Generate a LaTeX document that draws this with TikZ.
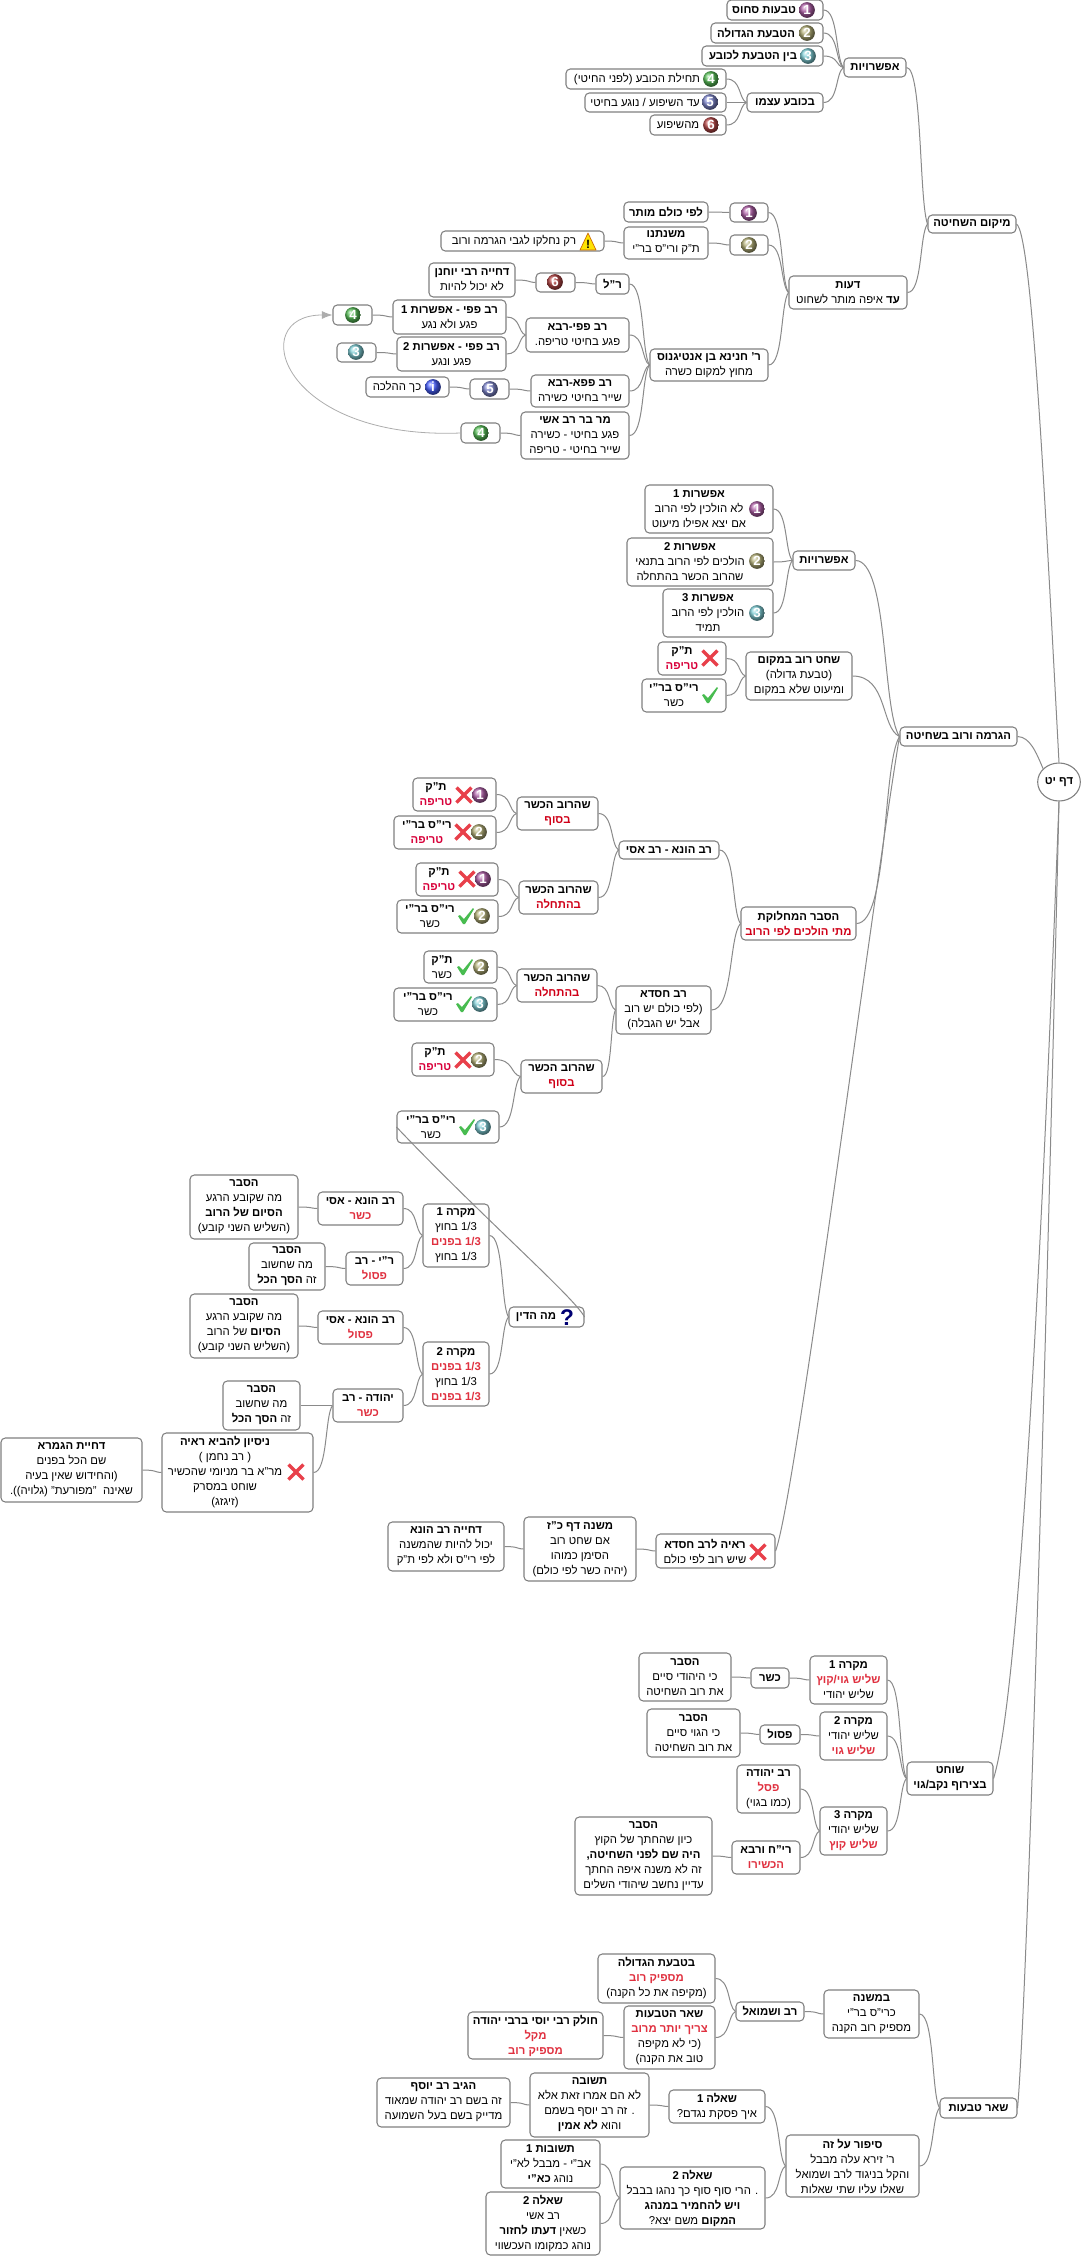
\documentclass[tikz,border=0pt]{standalone}
\usepackage{fontspec}
\setmainfont[Script=Hebrew]{Liberation Sans}
\usetikzlibrary{calc,arrows.meta,shapes.geometric,shadings}
\TeXXeTstate=1
\definecolor{boxc}{HTML}{808080}
\definecolor{linec}{HTML}{8A8A8A}
\definecolor{redA}{HTML}{D8003A}
\definecolor{redB}{HTML}{D00018}
\definecolor{redC}{HTML}{E0303F}
\definecolor{b1}{HTML}{B060A8}
\definecolor{b2}{HTML}{B4B078}
\definecolor{b3}{HTML}{80D0D8}
\definecolor{b4}{HTML}{58C058}
\definecolor{b5}{HTML}{8088D0}
\definecolor{b6}{HTML}{B84848}
\definecolor{binfo}{HTML}{4860FF}
\definecolor{xred}{HTML}{E8404A}
\definecolor{cgreen}{HTML}{48BC50}
\newcommand\hR[1]{\beginR#1\endR}
\newcommand\hB[1]{{\bfseries\beginR#1\endR}}
\newcommand\hRA[1]{{\bfseries\color{redA}\beginR#1\endR}}
\newcommand\hRB[1]{{\bfseries\color{redB}\beginR#1\endR}}
\newcommand\hRC[1]{{\bfseries\color{redC}\beginR#1\endR}}
\tikzset{
  bx/.style={draw=boxc,line width=0.8pt,rounded corners=3.2pt,fill=white,inner sep=0pt,align=center,font=\fontsize{8.5}{11.25}\selectfont},
  bxtext/.style={inner sep=0pt,align=center,font=\fontsize{8.5}{11.25}\selectfont},
  conn/.style={draw=linec,line width=0.75pt},
  numball/.style={circle,inner sep=0pt,minimum size=11.8pt,shade,ball color=#1,text=white,font=\fontsize{10}{10}\selectfont\bfseries}
}
% name, x0,y0,x1,y1, content
\newcommand\BX[6]{\node[bx,minimum width={(#4-#2)*0.75pt},minimum height={(#5-#3)*0.75pt}] (#1) at ({(#2+#4)/2},{(#3+#5)/2}) {#6};}
% name, x0,y0,x1,y1, text centre, content
\newcommand\BXT[7]{\node[bx,minimum width={(#4-#2)*0.75pt},minimum height={(#5-#3)*0.75pt}] (#1) at ({(#2+#4)/2},{(#3+#5)/2}) {};
  \node[bxtext] (#1-t) at ({#6},{(#3+#5)/2}) {#7};}
\newcommand\ball[4]{\node[numball=#4] (ball-#1-#2) at (#1,#2) {#3};}
\newcommand\xmk[2]{\draw[line width=2.6pt,color=xred,line cap=butt] (#1-7.5,#2-7.5) -- (#1+7.5,#2+7.5) (#1-7.5,#2+7.5) -- (#1+7.5,#2-7.5);}
\newcommand\chk[2]{\fill[color=cgreen] (#1-8,#2+0) -- (#1-6,#2-1) -- (#1-2,#2+3) -- (#1+7,#2-8) -- (#1+8,#2-7) -- (#1-1,#2+8) -- (#1-3,#2+8) -- cycle;}
\newcommand\conn[2]{\draw[conn] let \p1=(#2.east),\p2=(#1.west),\n1={\x2-\x1},\n2={\y2-\y1} in (\p1) .. controls ($(\p1)+(0.75*\n1,0pt)$) and ($(\p2)+(-0.4*\n1,-0.15*\n2)$) .. (\p2);}
\begin{document}
\begin{tikzpicture}[x=0.75pt,y=-0.75pt]
\useasboundingbox (0,0) rectangle (1081,2256);
\fill[white] (0,0) rectangle (1081,2256);
% root
\node[bx,ellipse,minimum width=32pt,minimum height=28.5pt] (root) at (1059,782) {\hB{דף יט}};
% --- first branch
\BX{mik}{928}{215}{1016}{233}{\hB{מיקום השחיטה}}
\BX{af1}{844}{58}{906}{77}{\hB{אפשרויות}}
\BXT{t1}{727}{0}{823}{20}{764}{\hB{טבעות סחוס}}
\ball{807}{10}{1}{b1}
\BXT{t2}{711}{23}{823}{43}{756}{\hB{הטבעת הגדולה}}
\ball{807}{33}{2}{b2}
\BXT{t3}{702}{46}{823}{66}{753}{\hB{בין הטבעת לכובע}}
\ball{808}{56}{3}{b3}
\BX{kv}{747}{93}{823}{112}{\hB{בכובע עצמו}}
\BXT{k4}{566}{69}{726}{89}{637}{\hR{תחילת הכובע (לפני החיטי)}}
\ball{711}{79}{4}{b4}
\BXT{k5}{585}{93}{726}{112}{645}{\hR{עד השיפוע / נוגע בחיטי}}
\ball{710}{102}{5}{b5}
\BXT{k6}{650}{115}{726}{135}{678}{\hR{מהשיפוע}}
\ball{711}{125}{6}{b6}
\BX{de}{789}{276}{907}{309}{\hB{דעות}\\\hR{\textbf{עד} איפה מותר לשחוט}}
\BX{i1}{730}{203}{768}{222}{}
\ball{749}{213}{1}{b1}
\BX{le}{624}{202}{708}{222}{\hB{לפי כולם מותר}}
\BX{i2}{730}{235}{768}{255}{}
\ball{749}{245}{2}{b2}
\BX{mn}{624}{227}{708}{259}{\hB{משנתנו}\\\hR{ת"ק ורי"ס בר"י}}
\BXT{wn}{441}{231}{604}{251}{514}{\hR{רק נחלקו לגבי הגרמה ורוב}}
\fill[color=yellow!85!orange,draw=orange!80!black,line width=0.5pt,line join=round] (588,233) -- (596,250) -- (580,250) -- cycle;
\node[inner sep=0pt,font=\fontsize{9}{9}\selectfont\bfseries] (wn-ic) at (588,244) {!};
\BX{ha}{650}{349}{768}{381}{\hB{ר' חנינא בן אנטיגנוס}\\\hR{מחוץ למקום כשרה}}
\BX{rl}{596}{274}{629}{294}{\hB{ר"ל}}
\BX{i6}{536}{273}{575}{292}{}
\ball{555}{282}{6}{b6}
\BX{dy}{429}{263}{515}{297}{\hB{דחייה רבי יוחנן}\\\hR{לא יכול להיות}}
\BX{pr}{526}{318}{629}{352}{\hB{רב פפי-רבא}\\\hR{פגע בחיטי טריפה.}}
\BX{o1a}{393}{300}{506}{334}{\hB{רב פפי - אפשרות 1}\\\hR{פגע ולא נגע}}
\BX{o2a}{397}{337}{506}{371}{\hB{רב פפי - אפשרות 2}\\\hR{פגע ונגע}}
\BX{i4a}{333}{305}{372}{325}{}
\ball{353}{315}{4}{b4}
\BX{i3}{337}{343}{376}{362}{}
\ball{356}{352}{3}{b3}
\BX{pp}{531}{375}{629}{407}{\hB{רב פפא-רבא}\\\hR{שייר בחיטי כשירה}}
\BX{i5}{470}{379}{509}{399}{}
\ball{490}{389}{5}{b5}
\BXT{inf}{366}{377}{449}{397}{397}{\hR{כך ההלכה}}
\node[numball=binfo,font=\fontsize{10}{10}\selectfont\bfseries] (inf-ic) at (433,387) {i};
\BX{mr}{521}{412}{629}{459}{\hB{מר בר רב אשי}\\\hR{פגע בחיטי - כשירה}\\\hR{שייר בחיטי - טריפה}}
\BX{i4b}{461}{423}{500}{443}{}
\ball{481}{433}{4}{b4}
% --- second branch
\BX{hg}{900}{727}{1017}{746}{\hB{הגרמה ורוב בשחיטה}}
\BX{af2}{793}{551}{855}{570}{\hB{אפשרויות}}
\BXT{o1}{645}{485}{773}{533}{699}{\hB{אפשרות 1}\\\hR{לא הולכין לפי הרוב}\\\hR{אם יצא אפילו מיעוט}}
\ball{757}{509}{1}{b1}
\BXT{o2}{627}{538}{773}{586}{690}{\hB{אפשרות 2}\\\hR{הולכים לפי הרוב בתנאי}\\\hR{שהרוב הכשר בהתחלה}}
\ball{757}{561}{2}{b2}
\BXT{o3}{663}{589}{773}{637}{708}{\hB{אפשרות 3}\\\hR{הולכין לפי הרוב}\\\hR{תמיד}}
\ball{757}{613}{3}{b3}
\BX{sc}{746}{652}{852}{700}{\hB{שחט רוב במקום}\\\hR{(טבעת גדולה)}\\\hR{ומיעוט שלא במקום}}
\BXT{tk}{658}{642}{726}{675}{682}{\hB{ת"ק}\\\hRA{טריפה}}
\xmk{710}{658}
\BXT{rs}{642}{679}{726}{712}{674}{\hB{רי"ס בר"י}\\\hR{כשר}}
\chk{710}{695}
\BX{he}{741}{907}{856}{940}{\hB{הסבר המחלוקת}\\\hRB{מתי הולכים לפי הרוב}}
\BX{hu}{619}{841}{719}{859}{\hB{רב הונא - רב אסי}}
\BX{sh1}{517}{797}{598}{830}{\hB{שהרוב הכשר}\\\hRB{בסוף}}
\BXT{a1}{413}{778}{496}{811}{436}{\hB{ת"ק}\\\hRA{טריפה}}
\xmk{464}{795}\ball{480}{795}{1}{b1}
\BXT{a2}{394}{816}{496}{849}{427}{\hB{רי"ס בר"י}\\\hRA{טריפה}}
\xmk{463}{832}\ball{479}{832}{2}{b2}
\BX{sh2}{519}{881}{598}{914}{\hB{שהרוב הכשר}\\\hRB{בהתחלה}}
\BXT{a3}{416}{863}{498}{896}{439}{\hB{ת"ק}\\\hRA{טריפה}}
\xmk{467}{879}\ball{483}{879}{1}{b1}
\BXT{a4}{397}{900}{498}{933}{430}{\hB{רי"ס בר"י}\\\hR{כשר}}
\chk{466}{916}\ball{482}{916}{2}{b2}
\BX{ch}{616}{986}{711}{1034}{\hB{רב חסדא}\\\hR{(לפי כולם יש רוב}\\\hR{אבל יש הגבלה)}}
\BX{sh3}{517}{969}{597}{1002}{\hB{שהרוב הכשר}\\\hRB{בהתחלה}}
\BXT{a5}{424}{951}{497}{983}{442}{\hB{ת"ק}\\\hR{כשר}}
\chk{465}{967}\ball{481}{967}{2}{b2}
\BXT{a6}{394}{988}{497}{1021}{428}{\hB{רי"ס בר"י}\\\hR{כשר}}
\chk{464}{1004}\ball{480}{1004}{3}{b3}
\BX{sh4}{521}{1060}{602}{1093}{\hB{שהרוב הכשר}\\\hRB{בסוף}}
\BXT{a7}{412}{1043}{494}{1076}{435}{\hB{ת"ק}\\\hRA{טריפה}}
\xmk{463}{1060}\ball{479}{1060}{2}{b2}
\BXT{a8}{397}{1111}{499}{1143}{431}{\hB{רי"ס בר"י}\\\hR{כשר}}
\chk{467}{1127}\ball{483}{1127}{3}{b3}
\BXT{mh}{509}{1307}{584}{1327}{536}{\hB{מה הדין}}
\node[inner sep=0pt,text=blue!45!black,font=\fontsize{17}{17}\selectfont\bfseries] (mh-ic) at (567,1318) {?};
\BX{m1}{423}{1204}{489}{1267}{\hB{מקרה 1}\\\hR{1/3 בחוץ}\\\hRC{1/3 בפנים}\\\hR{1/3 בחוץ}}
\BX{r1}{318}{1192}{403}{1225}{\hB{רב הונא - אסי}\\\hRC{כשר}}
\BX{e1}{190}{1175}{298}{1239}{\hB{הסבר}\\\hR{מה שקובע הרגע}\\\hB{הסיום של הרוב}\\\hR{(השליש השני קובע)}}
\BX{r2}{346}{1252}{403}{1285}{\hB{ר"י - רב}\\\hRC{פסול}}
\BX{e2}{249}{1243}{325}{1290}{\hB{הסבר}\\\hR{מה שחשוב}\\\hR{זה \textbf{הסך הכל}}}
\BX{m2}{423}{1342}{489}{1406}{\hB{מקרה 2}\\\hRC{1/3 בפנים}\\\hR{1/3 בחוץ}\\\hRC{1/3 בפנים}}
\BX{r3}{318}{1311}{403}{1344}{\hB{רב הונא - אסי}\\\hRC{פסול}}
\BX{e3}{190}{1294}{298}{1358}{\hB{הסבר}\\\hR{מה שקובע הרגע}\\\hR{\textbf{הסיום} של הרוב}\\\hR{(השליש השני קובע)}}
\BX{r4}{333}{1389}{403}{1422}{\hB{יהודה - רב}\\\hRC{כשר}}
\BX{e4}{223}{1381}{300}{1430}{\hB{הסבר}\\\hR{מה שחשוב}\\\hR{זה \textbf{הסך הכל}}}
\BXT{ni}{162}{1433}{313}{1512}{225}{\hB{ניסיון להביא ראיה}\\\hR{( רב נחמן )}\\\hR{מר"א בר מניומי שהכשיר}\\\hR{שוחט במסרק}\\\hR{(זיגזג)}}
\xmk{296}{1472}
\BX{dg}{1}{1438}{142}{1502}{\hB{דחיית הגמרא}\\\hR{שם הכל בפנים}\\\hR{(והחידוש שאין בעיה}\\\hR{שאינה \ "מפורעת" (גלויה)).}}
\BXT{ra}{656}{1534}{775}{1568}{705}{\hB{ראיה לרב חסדא}\\\hR{שיש רוב לפי כולם}}
\xmk{758}{1552}
\BX{mk}{524}{1517}{636}{1581}{\hB{משנה דף כ"ז}\\\hR{אם שחט רוב}\\\hR{הסימן כמוהו}\\\hR{(יהיה כשר לפי כולם)}}
\BX{dr}{388}{1522}{504}{1571}{\hB{דחייה רב הונא}\\\hR{יכול להיות שהמשנה}\\\hR{לפי רי"ס ולא לפי ת"ק}}
% --- third branch
\BX{so}{907}{1762}{993}{1795}{\hB{שוחט}\\\hB{בצירוף נקב/גוי}}
\BX{c1}{810}{1656}{887}{1704}{\hB{מקרה 1}\\\hRC{שליש גוי/קוץ}\\\hR{שליש יהודי}}
\BX{ks}{751}{1668}{789}{1688}{\hB{כשר}}
\BX{e5}{639}{1653}{731}{1701}{\hB{הסבר}\\\hR{כי היהודי סיים}\\\hR{את רוב השחיטה}}
\BX{c2}{820}{1712}{887}{1760}{\hB{מקרה 2}\\\hR{שליש יהודי}\\\hRC{שליש גוי}}
\BX{ps}{760}{1725}{800}{1744}{\hB{פסול}}
\BX{e6}{647}{1709}{740}{1757}{\hB{הסבר}\\\hR{כי הגוי סיים}\\\hR{את רוב השחיטה}}
\BX{c3}{820}{1807}{887}{1855}{\hB{מקרה 3}\\\hR{שליש יהודי}\\\hRC{שליש קוץ}}
\BX{ry}{737}{1765}{800}{1813}{\hB{רב יהודה}\\\hRC{פסל}\\\hR{(כמו בגוי)}}
\BX{rc}{732}{1841}{800}{1874}{\hB{רי"ח ורבא}\\\hRC{הכשירו}}
\BX{e7}{575}{1817}{712}{1895}{\hB{הסבר}\\\hR{כיון שהחתך של הקוץ}\\\hB{היה שם לפני השחיטה,}\\\hR{זה לא משנה איפה החתך}\\\hR{עדיין נחשב שיהודי השלים}}
% --- fourth branch
\BX{sr}{940}{2098}{1017}{2118}{\hB{שאר טבעות}}
\BX{bm}{824}{1990}{919}{2038}{\hB{במשנה}\\\hR{כרי"ס בר"י}\\\hR{מספיק רוב הקנה}}
\BX{rv}{736}{2002}{804}{2021}{\hB{רב ושמואל}}
\BX{bg}{598}{1954}{715}{2003}{\hB{בטבעת הגדולה}\\\hRC{מספיק רוב}\\\hR{(מקיפה את כל הקנה)}}
\BX{st}{624}{2006}{715}{2069}{\hB{שאר הטבעות}\\\hRC{צריך יותר מרוב}\\\hR{(כי לא מקיפה}\\\hR{טוב את הקנה)}}
\BX{cl}{468}{2012}{603}{2059}{\hB{חולק רבי יוסי ברבי יהודה}\\\hRC{מקל}\\\hRC{מספיק רוב}}
\BX{sp}{786}{2135}{919}{2197}{\hB{סיפור על זה}\\\hR{ר' זירא עלה מבבל}\\\hR{והקל בניגוד לרב ושמואל}\\\hR{שאלו עליו שתי שאלות}}
\BX{q1}{669}{2090}{765}{2123}{\hB{שאלה 1}\\\hR{איך פסקת נגדם?}}
\BX{ts}{530}{2073}{649}{2137}{\hB{תשובה}\\\hR{לא הם אמרו זאת אלא}\\\hR{. זה רב יוסף בשמם}\\\hR{והוא \textbf{לא אמין}}}
\BX{hy}{377}{2078}{510}{2127}{\hB{הגיב רב יוסף}\\\hR{זה בשם רב יהודה שמאוד}\\\hR{מדייק בשם בעל השמועה}}
\BX{q2}{620}{2167}{765}{2229}{\hB{שאלה 2}\\\hR{. הרי סוף סוף כך נהגו בבבל}\\\hB{ויש להחמיר במנהג}\\\hR{\textbf{המקום} משם יצא?}}
\BX{an}{501}{2140}{600}{2188}{\hB{תשובות 1}\\\hR{אב"י - מבבל לא"י}\\\hR{נוהג \textbf{כא"י}}}
\BX{as}{486}{2192}{600}{2255}{\hB{שאלה 2}\\\hR{רב אשי}\\\hR{כשאין \textbf{דעתו לחזור}}\\\hR{נוהג כמקומו העכשווי}}
% --- connectors
\draw[conn] (root.north) .. controls (1045,500) and (1032,235) .. (mik.east);
\draw[conn] (root.140) .. controls (1036,752) and (1030,737) .. (hg.east);
\draw[conn] (root.south) .. controls (1040,1300) and (1018,1700) .. (so.east);
\draw[conn] (root.south) .. controls (1045,1400) and (1027,2000) .. (sr.east);
\conn{mik}{af1}\conn{mik}{de}
\conn{af1}{t1}\conn{af1}{t2}\conn{af1}{t3}\conn{af1}{kv}
\conn{kv}{k4}\conn{kv}{k5}\conn{kv}{k6}
\conn{de}{i1}\conn{de}{i2}\conn{de}{ha}
\conn{i1}{le}\conn{i2}{mn}\conn{mn}{wn}
\conn{ha}{rl}\conn{ha}{pr}\conn{ha}{pp}\conn{ha}{mr}
\conn{rl}{i6}\conn{i6}{dy}
\conn{pr}{o1a}\conn{pr}{o2a}\conn{o1a}{i4a}\conn{o2a}{i3}
\conn{pp}{i5}\conn{i5}{inf}\conn{mr}{i4b}
\draw[draw=linec!70!white,line width=0.6pt,-{Latex[length=8pt,width=6pt,color=linec!70!white]}] (i4b.west) .. controls (280,440) and (245,315) .. (i4a.west);
\conn{hg}{af2}\conn{hg}{sc}\conn{hg}{he}
\draw[conn] (ra.east) .. controls (795,1500) and (868,930) .. (hg.west);
\conn{af2}{o1}\conn{af2}{o2}\conn{af2}{o3}
\conn{sc}{tk}\conn{sc}{rs}
\conn{he}{hu}\conn{he}{ch}
\conn{hu}{sh1}\conn{hu}{sh2}
\conn{sh1}{a1}\conn{sh1}{a2}\conn{sh2}{a3}\conn{sh2}{a4}
\conn{ch}{sh3}\conn{ch}{sh4}
\conn{sh3}{a5}\conn{sh3}{a6}\conn{sh4}{a7}\conn{sh4}{a8}
\draw[conn] (a8.west) .. controls (480,1215) and (575,1298) .. (mh.east);
\conn{mh}{m1}\conn{mh}{m2}
\conn{m1}{r1}\conn{m1}{r2}\conn{r1}{e1}\conn{r2}{e2}
\conn{m2}{r3}\conn{m2}{r4}\conn{r3}{e3}\conn{r4}{e4}\conn{r4}{ni}\conn{ni}{dg}
\conn{ra}{mk}\conn{mk}{dr}
\conn{so}{c1}\conn{so}{c2}\conn{so}{c3}
\conn{c1}{ks}\conn{ks}{e5}\conn{c2}{ps}\conn{ps}{e6}
\conn{c3}{ry}\conn{c3}{rc}\conn{rc}{e7}
\conn{sr}{bm}\conn{sr}{sp}
\conn{bm}{rv}\conn{rv}{bg}\conn{rv}{st}\conn{st}{cl}
\conn{sp}{q1}\conn{sp}{q2}\conn{q1}{ts}\conn{ts}{hy}
\conn{q2}{an}\conn{q2}{as}
\end{tikzpicture}
\end{document}
